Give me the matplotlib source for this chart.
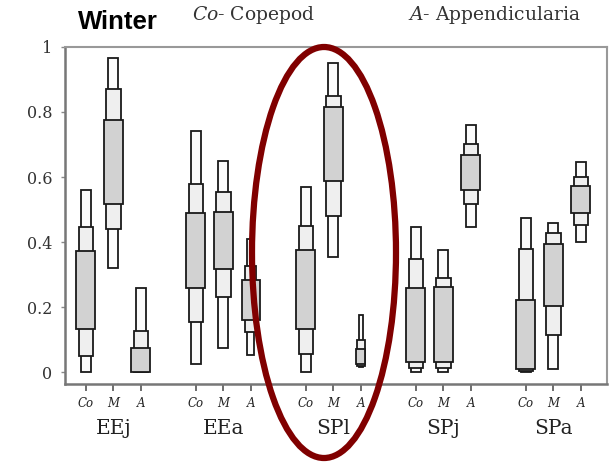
import matplotlib
matplotlib.use("Agg")
import matplotlib.pyplot as plt
from matplotlib.patches import Rectangle, Ellipse

plt.rcParams["mathtext.fontset"] = "dejavuserif"

# sites and prey sources
groups = ["EEj", "EEa", "SPl", "SPj", "SPa"]
prey = ["Co", "M", "A"]

# credible intervals per site (rows) and prey (cols): (low, high)
ci95 = [
    [(0.00, 0.560), (0.320, 0.967), (0.000, 0.260)],
    [(0.025, 0.740), (0.073, 0.650), (0.053, 0.410)],
    [(0.00, 0.568), (0.355, 0.950), (0.015, 0.175)],
    [(0.00, 0.445), (0.000, 0.377), (0.445, 0.760)],
    [(0.00, 0.475), (0.008, 0.458), (0.400, 0.647)],
]
ci75 = [
    [(0.050, 0.445), (0.440, 0.870), (0.000, 0.125)],
    [(0.155, 0.580), (0.230, 0.553), (0.123, 0.325)],
    [(0.055, 0.450), (0.480, 0.850), (0.020, 0.100)],
    [(0.012, 0.347), (0.012, 0.288), (0.517, 0.700)],
    [(0.003, 0.380), (0.114, 0.427), (0.452, 0.600)],
]
ci50 = [
    [(0.133, 0.373), (0.517, 0.775), (0.000, 0.075)],
    [(0.260, 0.490), (0.316, 0.493), (0.160, 0.283)],
    [(0.133, 0.375), (0.587, 0.815), (0.025, 0.072)],
    [(0.030, 0.258), (0.030, 0.262), (0.560, 0.668)],
    [(0.008, 0.222), (0.203, 0.395), (0.488, 0.573)],
]

# box widths (x units) for 95 / 75 / 50 % boxes
widths = (0.36, 0.53, 0.69)
narrow = {(1, 2): (0.25, 0.40, 0.65), (2, 2): (0.17, 0.30, 0.33)}
fills = ("#fbfbfb", "#efefef", "#d2d2d2")

fig = plt.figure(figsize=(6.15, 4.65), dpi=100)
ax = fig.add_axes([0.1057, 0.174, 0.8813, 0.725])

for g in range(len(groups)):
    for k in range(len(prey)):
        x = g * 4 + k
        w = narrow.get((g, k), widths)
        for level, ci in enumerate((ci95, ci75, ci50)):
            lo, hi = ci[g][k]
            ax.add_patch(Rectangle((x - w[level] / 2, lo), w[level], hi - lo,
                                   facecolor=fills[level], edgecolor="#1a1a1a",
                                   linewidth=1.3, zorder=2 + level))

ax.set_xlim(-0.76, 18.95)
ax.set_ylim(-0.037, 1.0)

xt = [g * 4 + k for g in range(len(groups)) for k in range(len(prey))]
ax.set_xticks(xt)
ax.set_xticklabels(prey * len(groups), fontfamily="DejaVu Serif",
                   fontstyle="italic", fontsize=8.5, color="#222222")
ax.set_yticks([0, 0.2, 0.4, 0.6, 0.8, 1])
ax.set_yticklabels(["0", "0.2", "0.4", "0.6", "0.8", "1"],
                   fontfamily="DejaVu Serif", fontsize=11.5, color="#333333")
ax.tick_params(axis="x", length=5, width=1.2, color="#555555", pad=4)
ax.tick_params(axis="y", length=3, width=1, color="#888888", pad=6)

for side in ["left", "bottom"]:
    ax.spines[side].set_color("#777777")
    ax.spines[side].set_linewidth(1.8)
for side in ["top", "right"]:
    ax.spines[side].set_color("#999999")
    ax.spines[side].set_linewidth(1.5)

# site names under each triplet
for g, name in enumerate(groups):
    ax.text(g * 4 + 1, -0.19, name, transform=ax.transData, ha="center",
            va="baseline", fontfamily="DejaVu Serif", fontsize=14.5,
            color="#222222", clip_on=False)

fig.text(78 / 615, 1 - 29 / 465, "Winter", fontfamily="Liberation Sans",
         fontweight="bold", fontsize=18.5, va="baseline", ha="left")
fig.text(192 / 615, 1 - 20 / 465, "$\\it{Co}$- Copepod",
         fontfamily="DejaVu Serif", fontsize=13.5, color="#333333",
         va="baseline", ha="left")
fig.text(408 / 615, 1 - 20 / 465, "$\\it{A}$- Appendicularia",
         fontfamily="DejaVu Serif", fontsize=13.5, color="#333333",
         va="baseline", ha="left")

# highlight around SPl
fig.add_artist(Ellipse((3.24, 2.125), 1.44, 4.11, fill=False,
                       edgecolor="#800000", linewidth=4.5,
                       transform=fig.dpi_scale_trans, zorder=5))

fig.savefig("out.png", dpi=100)
plt.close(fig)
